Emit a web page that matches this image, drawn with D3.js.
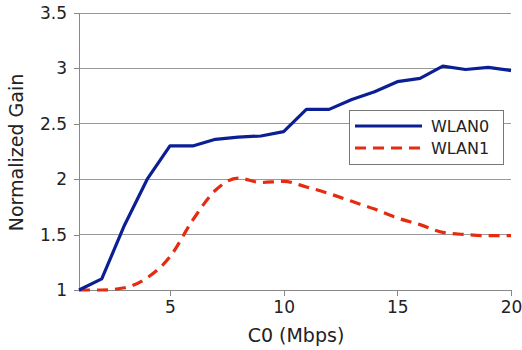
<!DOCTYPE html>
<html><head><meta charset="utf-8">
<script src="https://cdn.jsdelivr.net/npm/d3@7"></script>
<style>body{margin:0;background:#fff;} text{font-family:"DejaVu Sans",sans-serif;fill:#222;}</style>
</head><body><svg id="c" width="522" height="350"></svg>
<script>
const xValues = [1,2,3,4,5,6,7,8,9,10,11,12,13,14,15,16,17,18,19,20];
const wlan0 = [1.0,1.1,1.585,2.0,2.3,2.3,2.36,2.38,2.39,2.43,2.63,2.63,2.72,2.79,2.88,2.91,3.02,2.99,3.01,2.98];
const wlan1 = [1.0,1.0,1.02,1.11,1.3,1.63,1.9,2.01,1.97,1.98,1.93,1.87,1.8,1.73,1.65,1.59,1.52,1.5,1.49,1.49];
const seriesNames = ["WLAN0","WLAN1"];
const xTicks = [5,10,15,20];
const yTicks = [1,1.5,2,2.5,3,3.5];

const svg = d3.select("#c");
const m = {l:79, r:11, t:13, b:60};
const W = 522, H = 350;
const x = d3.scaleLinear().domain([1,20]).range([m.l, W-m.r]);
const y = d3.scaleLinear().domain([1,3.5]).range([H-m.b, m.t]);

// gridlines
svg.append("g").selectAll("line").data(yTicks.filter(d=>d>1)).join("line")
  .attr("x1", m.l).attr("x2", W-m.r).attr("y1", d=>y(d)).attr("y2", d=>y(d))
  .attr("stroke", "#999").attr("stroke-width", 1).attr("shape-rendering","crispEdges");

const xAxis = svg.append("g").attr("transform", `translate(0,${H-m.b})`)
  .call(d3.axisBottom(x).tickValues(xTicks).tickSize(6).tickPadding(5).tickFormat(d3.format("d")));
const yAxis = svg.append("g").attr("transform", `translate(${m.l},0)`)
  .call(d3.axisLeft(y).tickValues(yTicks).tickSize(5).tickPadding(7).tickFormat(d=>String(d)));
[xAxis,yAxis].forEach(a=>{
  a.selectAll("path").attr("stroke","#888").attr("shape-rendering","crispEdges");
  a.selectAll("line").attr("stroke","#888").attr("shape-rendering","crispEdges");
  a.selectAll("text").style("font-family","DejaVu Sans").style("font-size","17px").attr("fill","#222");
});
xAxis.select(".domain").attr("d", `M${m.l},0H${W-m.r}`);
yAxis.select(".domain").attr("d", `M0,${m.t}V${H-m.b}`);

svg.append("text").attr("x", (m.l+W-m.r)/2 + 1).attr("y", 342).attr("text-anchor","middle")
  .style("font-size","19px").text("C0 (Mbps)");
svg.append("text").attr("transform",`translate(23,${(m.t+H-m.b)/2+1}) rotate(-90)`).attr("text-anchor","middle")
  .style("font-size","19px").text("Normalized Gain");

const line0 = d3.line().x((d,i)=>x(xValues[i])).y(d=>y(d));
const line1 = d3.line().x((d,i)=>x(xValues[i])).y(d=>y(d)).curve(d3.curveMonotoneX);

svg.append("path").datum(wlan1).attr("d", line1).attr("fill","none")
  .attr("stroke","#e52b10").attr("stroke-width",3.2).attr("stroke-dasharray","11,7");
svg.append("path").datum(wlan0).attr("d", line0).attr("fill","none")
  .attr("stroke","#0b1f94").attr("stroke-width",3.2).attr("stroke-linejoin","round");

// legend
const lg = svg.append("g");
lg.append("rect").attr("x",349.5).attr("y",110.5).attr("width",154).attr("height",54)
  .attr("fill","#fff").attr("stroke","#777").attr("stroke-width",1);
const colors = ["#0b1f94","#e52b10"];
const dashes = [null,"11,7"];
seriesNames.forEach((n,i)=>{
  const yy = 126 + i*22;
  lg.append("line").attr("x1",355).attr("x2",422).attr("y1",yy).attr("y2",yy)
    .attr("stroke",colors[i]).attr("stroke-width",3.2).attr("stroke-dasharray",dashes[i]);
  lg.append("text").attr("x",431).attr("y",yy+6).style("font-size","16px").text(n);
});
</script></body></html>
